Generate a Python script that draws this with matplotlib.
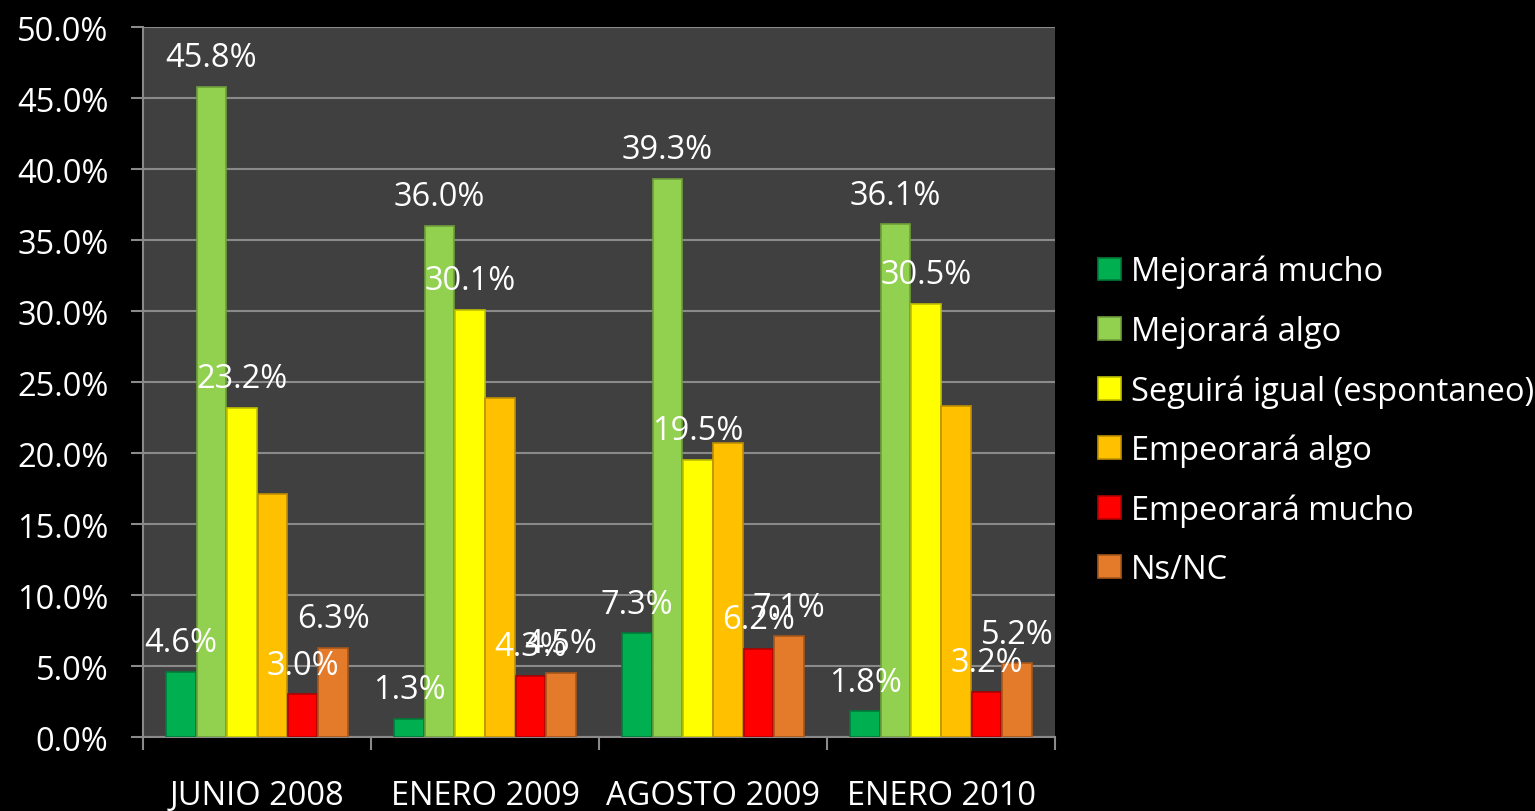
import matplotlib.pyplot as plt
import numpy as np

plt.rcParams['font.family'] = ['Open Sans', 'DejaVu Sans']

periods = ["JUNIO 2008", "ENERO 2009", "AGOSTO 2009", "ENERO 2010"]
series = ["Mejorará mucho", "Mejorará algo", "Seguirá igual (espontaneo)",
          "Empeorará algo", "Empeorará mucho", "Ns/NC"]

mejorara_mucho = [4.6, 1.3, 7.3, 1.8]
mejorara_algo = [45.8, 36.0, 39.3, 36.1]
seguira_igual = [23.2, 30.1, 19.5, 30.5]
empeorara_algo = [17.1, 23.9, 20.7, 23.3]
empeorara_mucho = [3.0, 4.3, 6.2, 3.2]
ns_nc = [6.3, 4.5, 7.1, 5.2]

values = [mejorara_mucho, mejorara_algo, seguira_igual,
          empeorara_algo, empeorara_mucho, ns_nc]
show_labels = [True, True, True, False, True, True]

colors = ["#00B050", "#92D050", "#FFFF00", "#FFC000", "#FF0000", "#E47B2A"]
edges = ["#007A38", "#6E9E3A", "#BFBF00", "#C08F00", "#B00000", "#A5561A"]

fs = 23.5

fig = plt.figure(figsize=(15.35, 8.12), dpi=100, facecolor="black")
ax = fig.add_axes([0.0932, 0.0911, 0.5941, 0.8744])
ax.set_facecolor("#404040")

n = len(series)
width = 1 / 7.5
x = np.arange(len(periods))
for i in range(n):
    pos = x - 0.5 + width * 0.75 + width * (i + 0.5)
    bars = ax.bar(pos, values[i], width * 0.97, color=colors[i],
                  edgecolor=edges[i], linewidth=1.2, label=series[i], zorder=3)
    if show_labels[i]:
        for b, v in zip(bars, values[i]):
            ax.annotate(f"{v:.1f}%", (b.get_x() + b.get_width() / 2, v),
                        xytext=(0, 21), textcoords="offset points",
                        ha="center", va="center", color="white",
                        fontsize=fs, zorder=5)

ax.set_xlim(-0.5, len(periods) - 0.5)
ax.set_ylim(0, 50)
ax.set_yticks(np.arange(0, 50.1, 5))
ax.set_yticklabels([f"{t:.1f}%" for t in np.arange(0, 50.1, 5)])
ax.yaxis.grid(True, color="#8A8A8A", linewidth=1.5, zorder=0)
ax.set_axisbelow(True)

ax.set_xticks(np.arange(-0.5, len(periods), 1))
ax.set_xticklabels([])
ax.set_xticks(x, minor=True)
ax.set_xticklabels(periods, minor=True)
ax.tick_params(axis="x", which="minor", length=0, pad=30, labelsize=fs,
               labelcolor="white")
ax.tick_params(axis="x", which="major", length=9, width=1.5, color="#8A8A8A")
ax.tick_params(axis="y", length=9, width=1.5, color="#8A8A8A",
               labelsize=fs, labelcolor="white", pad=16)

for s in ["top", "right"]:
    ax.spines[s].set_visible(False)
for s in ["left", "bottom"]:
    ax.spines[s].set_color("#8A8A8A")
    ax.spines[s].set_linewidth(1.5)

leg = fig.legend(loc="upper left", bbox_to_anchor=(0.6964, 0.721),
                 frameon=False, fontsize=fs, labelcolor="white",
                 handlelength=0.7, handleheight=0.7, handletextpad=0.3,
                 labelspacing=0.8)

fig.savefig("out.png", dpi=100, facecolor="black")
